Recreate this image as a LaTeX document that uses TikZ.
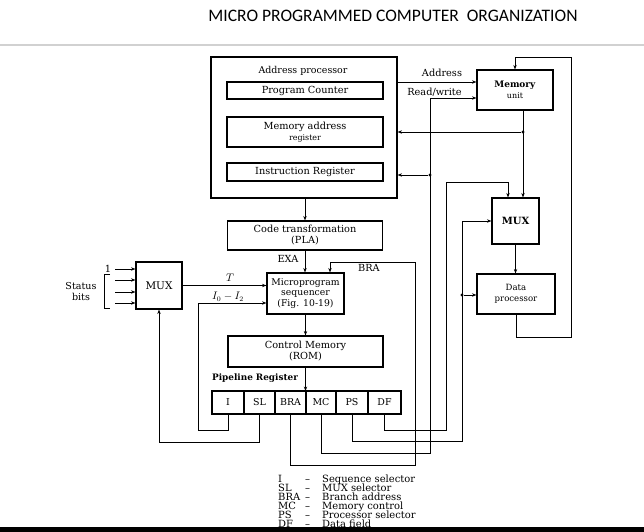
\documentclass[tikz,border=0pt]{standalone}
\usepackage{fontspec}
\setmainfont{DejaVu Serif}
\newfontfamily\titlefont{Carlito}
\usetikzlibrary{positioning, arrows.meta}

\begin{document}
\begin{tikzpicture}[x=1bp, y=-1bp, >={Stealth[length=4.5bp,width=3.4bp]},
        % styles for the blocks and wires
        blk/.style={
            draw,
            line width=1.1bp,
            inner sep=0pt,
            align=center,
            font=\fontsize{9.8}{11}\selectfont
        },
        reg/.style={blk, minimum height=23bp, outer sep=0pt, font=\fontsize{9.5}{11}\selectfont},
        wire/.style={line width=0.7bp},
        lbl/.style={inner sep=0pt, font=\fontsize{9.8}{11}\selectfont},
        jdot/.style={circle, fill, inner sep=0pt, minimum size=3.4bp}
    ]
        \useasboundingbox (0,0) rectangle (644,532);

        % Title
        \node[font=\titlefont\fontsize{17.6}{19}\selectfont] (title) at (393,16) {MICRO PROGRAMMED COMPUTER\ \ ORGANIZATION};
        \draw[black!18, line width=1.6bp] (0,45) -- (644,45);

        % Address processor
        \node[blk, minimum width=186bp, minimum height=141bp] (ap) at (304,127.5) {};
        \node[lbl, font=\fontsize{9.5}{11}\selectfont] (aplbl) at (303,71) {Address processor};
        \node[blk, minimum width=156bp, minimum height=17bp] (pc) at (305,90.5) {Program Counter};
        \node[blk, minimum width=156bp, minimum height=30bp] (mar) at (305,132) {Memory address\\{\fontsize{8}{9}\selectfont register}};
        \node[blk, minimum width=156bp, minimum height=18bp] (ir) at (305,172) {Instruction Register};

        % Control chain
        \node[blk, minimum width=155bp, minimum height=29bp] (pla) at (305,235.5) {Code transformation\\(PLA)};
        \node[blk, minimum width=77bp, minimum height=41bp, font=\fontsize{9.3}{10.5}\selectfont] (seq) at (305.5,293.5) {Microprogram\\sequencer\\(Fig. 10-19)};
        \node[blk, minimum width=155bp, minimum height=31bp] (rom) at (305.5,351.5) {Control Memory\\(ROM)};

        % Pipeline register
        \node[lbl, anchor=west, font=\bfseries\fontsize{8.9}{10}\selectfont] (plbl) at (212,378) {Pipeline Register};
        \node[reg, minimum width=32bp] (fI) at (228,402.5) {I};
        \node[reg, minimum width=31bp, right=0pt of fI] (fSL) {SL};
        \node[reg, minimum width=31bp, right=0pt of fSL] (fBRA) {BRA};
        \node[reg, minimum width=30bp, right=0pt of fBRA] (fMC) {MC};
        \node[reg, minimum width=32bp, right=0pt of fMC] (fPS) {PS};
        \node[reg, minimum width=33bp, right=0pt of fPS] (fDF) {DF};

        % Status MUX
        \node[blk, minimum width=46bp, minimum height=47bp, font=\fontsize{10.5}{12}\selectfont] (lmux) at (159,285.5) {MUX};
        \node[lbl, align=center, font=\fontsize{9.6}{11}\selectfont] (status) at (81,291.5) {Status\\bits};
        \node[lbl] (one) at (108,269) {1};
        \foreach \y [count=\i] in {269,280,292,303} {
            \coordinate (s\i) at (115,\y);
            \draw[wire,->] (s\i) -- (lmux.west |- s\i);
        }
        \draw[wire] (110,274) -- (104,274) -- (104,308) -- (110,308);

        % Memory side
        \node[blk, minimum width=76bp, minimum height=40bp] (mem) at (515,90) {\textbf{\fontsize{9}{10}\selectfont Memory}\\{\fontsize{8}{9}\selectfont unit}};
        \node[blk, minimum width=47bp, minimum height=46bp, font=\bfseries\fontsize{10}{12}\selectfont] (rmux) at (515.5,221) {MUX};
        \node[blk, minimum width=78bp, minimum height=40bp, font=\fontsize{8.6}{11}\selectfont] (dp) at (516,294) {Data\\processor};

        % Labels
        \node[lbl] (addr) at (442,73) {Address};
        \node[lbl] (rw) at (434.5,92) {Read/write};
        \node[lbl] (exa) at (288,259) {EXA};
        \node[lbl] (bralbl) at (369,268) {BRA};
        \node[lbl, font=\fontsize{10.5}{12}\selectfont] (tlbl) at (230,278) {$T$};
        \node[lbl, font=\fontsize{10.5}{12}\selectfont] (i02) at (228,297) {$I_0 - I_2$};

        % Lines
        \draw[wire,->] (pla.north |- ap.south) -- (pla.north);
        \draw[wire,->] (pla.south) -- (pla.south |- seq.north);
        \draw[wire,->] (seq.south) -- (seq.south |- rom.north);
        \draw[wire,->] (rom.south) -- (rom.south |- fBRA.north);
        \draw[wire,->] (lmux.east) -- (seq.west |- lmux.east);
        \draw[wire,->] (ap.east |- 0,82) -- (mem.west |- 0,82);
        \draw[wire,->] (mem.south -| 523,0) -- (rmux.north -| 523,0);
        \node[jdot] (j1) at (523,132) {};
        \draw[wire,->] (j1) -- (ap.east |- j1);
        \draw[wire,->] (rmux.south) -- (rmux.south |- dp.north);
        \draw[wire,->] (dp.south) |- (571,337) |- (mem.north |- 0,57) -- (mem.north);

        % Pipeline fields
        \draw[wire,->] (fI.south) |- (198,430) |- (seq.west |- 0,303);
        \draw[wire,->] (fSL.south) |- (lmux.south |- 0,442) -- (lmux.south);
        \draw[wire,->] (fBRA.south) |- (415,465) |- (330,262) -- (seq.north -| 330,0);
        \draw[wire,->] (fMC.south) |- (430,453) |- (mem.west |- 0,98);
        \node[jdot] (j2) at (430,175) {};
        \draw[wire,->] (j2) -- (ap.east |- j2);
        \draw[wire,->] (fPS.south) |- (462,441) |- (rmux.west);
        \node[jdot] (j3) at (462,295) {};
        \draw[wire,->] (j3) -- (dp.west |- j3);
        \draw[wire,->] (fDF.south) |- (446,430) |- (508,182) -- (rmux.north -| 508,0);

        % Legend
        \foreach \ab/\txt [count=\i] in {I/Sequence selector, SL/MUX selector, BRA/Branch address,
                MC/Memory control, PS/Processor selector, DF/Data field} {
            \node[anchor=base west, inner sep=0pt, font=\fontsize{10}{10}\selectfont] (leg\i) at (278,{473+9*\i})
                {\makebox[27bp][l]{\ab}\makebox[17bp][l]{--}\txt};
        }
        \fill (0,527) rectangle (644,532);
    \end{tikzpicture}
\end{document}
